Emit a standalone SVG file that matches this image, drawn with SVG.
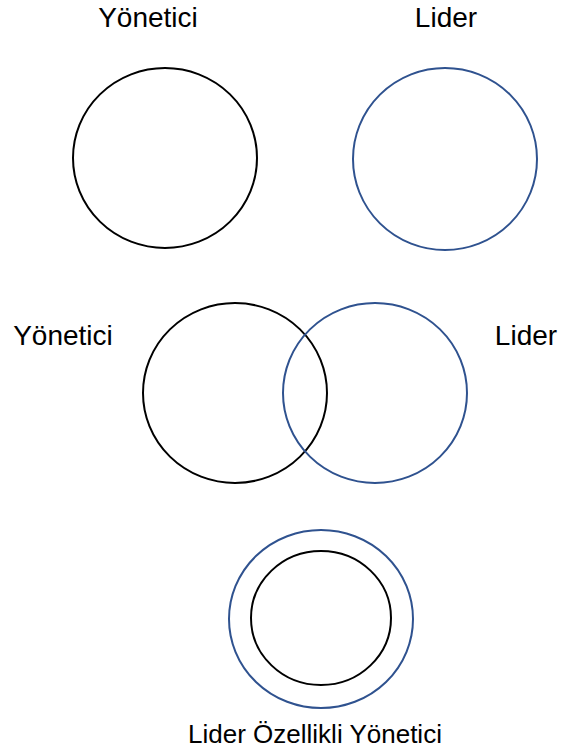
<svg xmlns="http://www.w3.org/2000/svg" width="562" height="751" viewBox="0 0 562 751">
  <style>
    .lbl { font-family: "Liberation Sans", Arial, sans-serif; font-size: 28px; fill: #000; }
    .small { font-size: 26px; }
    .mgr { fill: none; stroke: #000; stroke-width: 2; }
    .ldr { fill: none; stroke: #2F528F; stroke-width: 2; }
  </style>
  <rect width="562" height="751" fill="#fff"/>

  <!-- separate roles -->
  <g id="yonetici-top">
    <ellipse class="mgr" cx="165" cy="158" rx="92" ry="90"/>
    <text class="lbl" x="148" y="27" text-anchor="middle">Yönetici</text>
  </g>
  <g id="lider-top">
    <ellipse class="ldr" cx="445" cy="159" rx="92" ry="91"/>
    <text class="lbl" x="446" y="27" text-anchor="middle">Lider</text>
  </g>

  <!-- overlapping roles -->
  <g id="yonetici-mid">
    <ellipse class="mgr" cx="235" cy="393" rx="92" ry="90"/>
    <text class="lbl" x="63" y="345" text-anchor="middle">Yönetici</text>
  </g>
  <g id="lider-mid">
    <ellipse class="ldr" cx="375" cy="393" rx="92" ry="90"/>
    <text class="lbl" x="526" y="345" text-anchor="middle">Lider</text>
  </g>

  <!-- nested roles -->
  <g id="lider-ozellikli-yonetici">
    <ellipse class="ldr" cx="321" cy="619" rx="92" ry="89"/>
    <ellipse class="mgr" cx="321" cy="618" rx="70" ry="67"/>
    <text class="lbl small" x="315" y="743" text-anchor="middle">Lider Özellikli Yönetici</text>
  </g>

  <g id="connectors"/>
</svg>
